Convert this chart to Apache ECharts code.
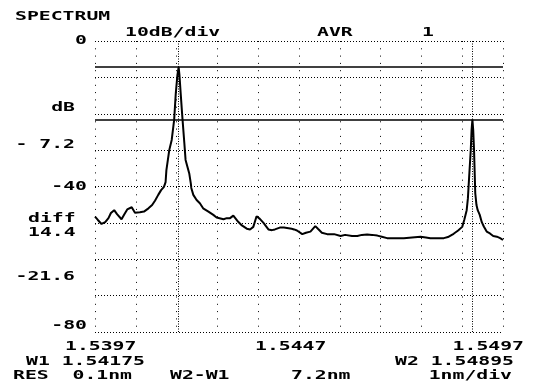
<!DOCTYPE html>
<html><head><meta charset="utf-8">
<script src="https://cdn.jsdelivr.net/npm/echarts@6/dist/echarts.min.js"></script>
<style>html,body{margin:0;padding:0;background:#fff}#c{width:534px;height:391px}</style>
</head><body><div id="c"></div>
<script>
// Spectrum trace: wavelength (nm) and level (dB)
const wavelengthNm = [1539.70,1539.77,1539.86,1539.95,1540.03,1540.09,1540.17,1540.24,1540.35,1540.42,1540.49,1540.60,1540.68,1540.80,1540.90,1541.01,1541.10,1541.17,1541.25,1541.32,1541.39,1541.43,1541.45,1541.52,1541.58,1541.64,1541.68,1541.72,1541.75,1541.77,1541.80,1541.84,1541.89,1541.92,1542.01,1542.05,1542.06,1542.11,1542.19,1542.27,1542.35,1542.48,1542.60,1542.68,1542.85,1542.93,1543.01,1543.09,1543.21,1543.30,1543.42,1543.50,1543.58,1543.66,1543.74,1543.83,1543.95,1544.04,1544.11,1544.23,1544.33,1544.52,1544.58,1544.65,1544.78,1544.87,1544.98,1545.10,1545.17,1545.26,1545.39,1545.56,1545.72,1545.83,1546.00,1546.13,1546.24,1546.37,1546.49,1546.62,1546.73,1546.86,1547.05,1547.27,1547.47,1547.68,1547.81,1547.92,1548.11,1548.25,1548.35,1548.49,1548.60,1548.70,1548.75,1548.81,1548.84,1548.87,1548.91,1548.93,1548.95,1548.97,1548.99,1549.02,1549.05,1549.08,1549.13,1549.18,1549.23,1549.30,1549.38,1549.46,1549.55,1549.63,1549.70];
const levelDb = [-48.3,-49.2,-50.3,-49.8,-48.7,-47.3,-46.5,-47.6,-49.0,-47.6,-46.3,-45.7,-47.2,-47.1,-46.9,-46.0,-45.1,-43.9,-42.3,-41.0,-40.1,-38.8,-35.5,-30.0,-27.2,-21.7,-14.4,-9.4,-7.2,-9.4,-14.4,-20.8,-28.1,-32.7,-36.4,-39.3,-40.4,-42.3,-43.7,-44.6,-46.0,-46.9,-47.8,-48.5,-49.0,-48.7,-48.7,-48.0,-49.7,-50.7,-51.6,-51.8,-51.1,-48.2,-48.9,-50.0,-51.8,-52.0,-51.8,-51.3,-51.3,-51.6,-51.8,-52.1,-53.1,-52.7,-52.4,-50.9,-51.7,-52.7,-53.1,-53.1,-53.6,-53.3,-53.6,-53.6,-53.3,-53.2,-53.3,-53.5,-53.8,-54.2,-54.2,-54.2,-54.0,-53.8,-54.0,-54.2,-54.2,-54.2,-53.9,-53.0,-52.1,-51.1,-49.2,-46.5,-43.2,-37.4,-30.0,-24.5,-21.6,-24.5,-30.0,-41.8,-45.1,-46.5,-47.8,-49.8,-51.0,-52.4,-52.9,-53.6,-53.8,-54.2,-54.7];

// Axis ranges / ticks
const xMinNm = 1539.7, xMaxNm = 1549.7, xDivisions = 10;
const yMinDb = -80, yMaxDb = 0, yStepDb = 10;
const yTickValues = [0, -40, -80];
const yTickLabels = ['0', '-40', '-80'];
const xTickLabels = ['1.5397', '1.5447', '1.5497'];

// Cursors
const cursorWavelengthsNm = [1541.75, 1548.95];
const cursorLevelsDb = [-7.2, -21.6];
const cursorReadouts = ['W1 1.54175', 'W2 1.54895'];
const levelLabels = ['- 7.2', '-21.6'];
const diffLabels = ['diff', '14.4'];
const headerLabels = ['SPECTRUM', '10dB/div', 'AVR', '1'];
const footerLabels = ['RES  0.1nm', 'W2-W1', '7.2nm', '1nm/div'];

const chart = echarts.init(document.getElementById('c'), null, {renderer: 'canvas'});
const seriesData = wavelengthNm.map((w, i) => [w, levelDb[i]]);

const option = {
  animation: false,
  backgroundColor: '#fff',
  grid: {left: 95, right: 31, top: 41, bottom: 59},
  xAxis: [
    {type: 'value', min: xMinNm, max: xMaxNm, show: false},
    {type: 'value', min: 0, max: xDivisions, interval: 1, position: 'bottom',
     axisLine: {show: false}, axisTick: {show: false}, axisLabel: {show: false},
     splitLine: {show: true, lineStyle: {color: '#000', width: 1, type: [1, 6.3]}}}
  ],
  yAxis: {type: 'value', min: yMinDb, max: yMaxDb, interval: yStepDb,
    axisLine: {show: false}, axisTick: {show: false}, axisLabel: {show: false},
    splitLine: {show: true, lineStyle: {color: '#000', width: 1, type: [1, 2]}}},
  series: [{
    type: 'line', xAxisIndex: 0, data: seriesData, showSymbol: false, symbol: 'none',
    lineStyle: {color: '#000', width: 2}, silent: true,
    markLine: {
      silent: true, symbol: 'none', label: {show: false}, animation: false,
      data: [
        ...cursorWavelengthsNm.map(v => ({xAxis: v, lineStyle: {color: '#000', width: 1, type: [1, 1.5]}})),
        ...cursorLevelsDb.map(v => ({yAxis: v, lineStyle: {color: '#000', width: 1.6, type: 'solid'}}))
      ]
    }
  }]
};
chart.setOption(option);

const FONT = 'bold 13px "DejaVu Sans Mono"';
const SX = 1.52;
function t(text, x, y, align) {
  return {type: 'text', x: x, y: y, scaleX: SX, silent: true,
    style: {text: text, font: FONT, fill: '#000', align: align || 'left', verticalAlign: 'middle'}};
}
const g = [];
g.push(t(headerLabels[0], 15, 17));
g.push(t(headerLabels[1], 125, 33));
g.push(t(headerLabels[2], 317, 33));
g.push(t(headerLabels[3], 422, 33));
yTickValues.forEach((v, i) => {
  const py = chart.convertToPixel({yAxisIndex: 0}, v);
  g.push(t(yTickLabels[i], 87, i === yTickValues.length - 1 ? py - 6 : py, 'right'));
});
g.push(t('dB', 75, 108, 'right'));
g.push(t(levelLabels[0], 75, 145, 'right'));
g.push(t(diffLabels[0], 28, 219));
g.push(t(diffLabels[1], 28, 233));
g.push(t(levelLabels[1], 75, 277, 'right'));
g.push(t(xTickLabels[0], 65, 347));
g.push(t(xTickLabels[1], 255, 347));
g.push(t(xTickLabels[2], 524, 347, 'right'));
g.push(t(cursorReadouts[0], 26, 362));
g.push(t(cursorReadouts[1], 514, 362, 'right'));
g.push(t(footerLabels[0], 13, 376));
g.push(t(footerLabels[1], 170, 376));
g.push(t(footerLabels[2], 291, 376));
g.push(t(footerLabels[3], 512, 376, 'right'));
chart.setOption({graphic: g});
</script></body></html>
